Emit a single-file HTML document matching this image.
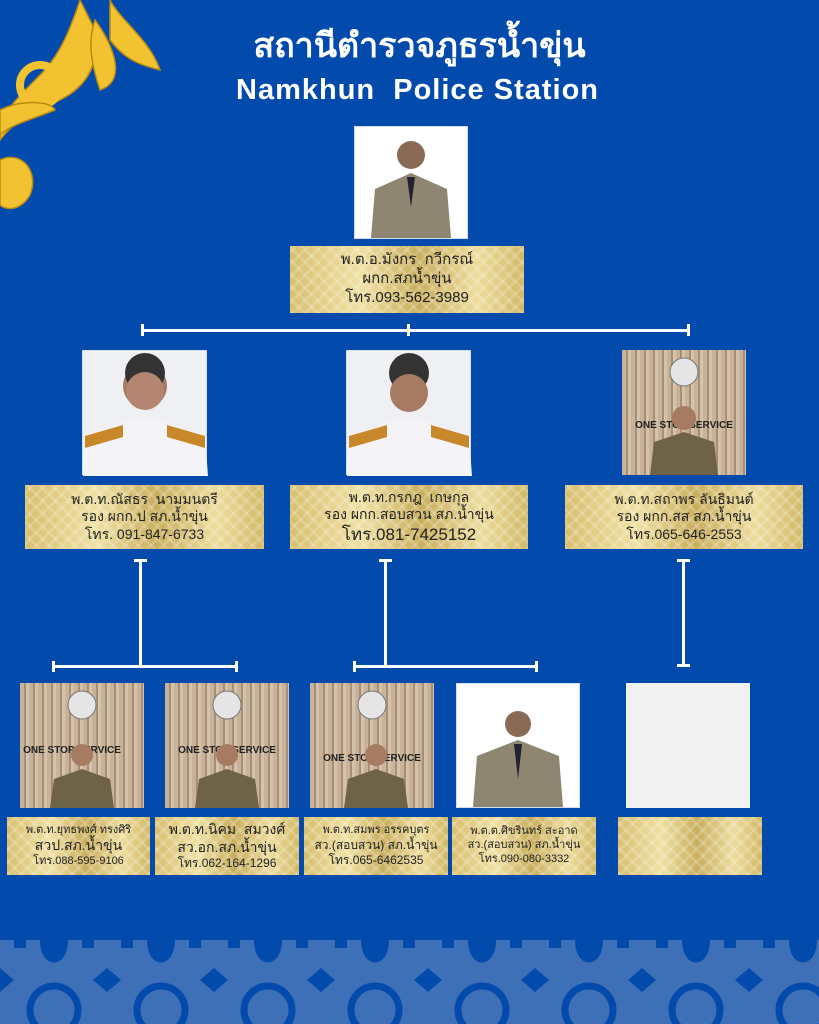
<!DOCTYPE html>
<html><head><meta charset="utf-8">
<style>
*{margin:0;padding:0;box-sizing:border-box}
body{width:819px;height:1024px;background:#034aad;position:relative;overflow:hidden;font-family:"Liberation Sans","DejaVu Sans",sans-serif}
.a{position:absolute}
.lbl{position:absolute;background:repeating-linear-gradient(45deg,rgba(255,255,255,.18) 0 3px,transparent 3px 9px),repeating-linear-gradient(-45deg,rgba(255,255,255,.18) 0 3px,transparent 3px 9px),linear-gradient(90deg,#d8bf6e,#efe0a2 30%,#c9ae5c 55%,#ecdc9c 80%,#d3b966);color:#222;text-align:center;display:flex;flex-direction:column;justify-content:center;line-height:1.25}
.w{background:#fff;position:absolute;border:1px solid #d6dde8}
.wood{position:absolute;background:repeating-linear-gradient(90deg,#c8b39a 0 4px,#a88e74 4px 6px,#d4c2aa 6px 9px)}
.ln{position:absolute;background:#fff}
</style></head><body>
<!-- ornament -->
<svg class="a" style="left:0;top:0" width="170" height="215" viewBox="0 0 170 215">
<g fill="#f2c230" stroke="#b98a10" stroke-width="1.5">
<path d="M80 0 C70 30 60 55 40 75 C20 95 5 110 0 125 L0 140 C15 120 35 110 60 100 C90 85 100 60 95 30 Z"/>
<path d="M110 0 C120 20 150 40 160 70 C140 65 125 60 110 40 Z"/>
<path d="M95 20 C110 40 130 80 100 90 C90 60 88 40 95 20Z"/>
<circle cx="40" cy="85" r="20" fill="none" stroke-width="8" stroke="#f2c230"/>
<path d="M0 160 C20 150 40 170 30 195 C20 212 5 210 0 205 Z"/>
<path d="M0 110 C20 100 50 100 55 110 C30 120 10 125 0 135Z"/>
</g></svg>
<div class="a" style="left:0;width:819px;top:26px;line-height:1.2;text-align:center;color:#fff;font-size:34px;font-weight:bold;padding-left:20px">สถานีตำรวจภูธรน้ำขุ่น</div>
<div class="a" style="left:0;width:819px;top:76px;line-height:1;text-align:center;color:#fff;font-size:29px;font-weight:bold;padding-left:16px;letter-spacing:1px">Namkhun&nbsp; Police Station</div>

<!-- top -->
<div class="w" style="left:354px;top:126px;width:114px;height:113px"><svg width="112" height="111"><circle cx="56" cy="28" r="14" fill="#8a6a55"/><path d="M16 111 L20 62 L56 46 L92 62 L96 111Z" fill="#8e8670"/><path d="M52 50 L56 80 L60 50Z" fill="#223"/></svg></div>
<div class="lbl" style="left:290px;top:246px;width:234px;height:67px;font-size:15px"><div>พ.ต.อ.มังกร&nbsp; กวีกรณ์</div><div>ผกก.สภน้ำขุ่น</div><div>โทร.093-562-3989</div></div>

<div class="ln" style="left:142px;top:329px;width:547px;height:3px"></div>
<div class="ln" style="left:141px;top:324px;width:3px;height:12px"></div>
<div class="ln" style="left:407px;top:324px;width:3px;height:12px"></div>
<div class="ln" style="left:687px;top:324px;width:3px;height:12px"></div>

<!-- row 2 -->
<div class="w" style="left:82px;top:350px;width:125px;height:125px;background:#eef0f4"><svg width="125" height="125"><circle cx="62" cy="35" r="22" fill="#a77a62"/><circle cx="62" cy="22" r="20" fill="#333"/><circle cx="62" cy="40" r="19" fill="#b48570"/><path d="M0 125 L2 85 L40 72 L62 66 L84 72 L122 85 L125 125Z" fill="#f4f4f8"/><path d="M2 85 L40 74 L40 86 L2 97Z M122 85 L84 74 L84 86 L122 97Z" fill="#c8882a"/></svg></div>
<div class="w" style="left:346px;top:350px;width:125px;height:125px;background:#eef0f4"><svg width="125" height="125"><circle cx="62" cy="22" r="20" fill="#333"/><circle cx="62" cy="42" r="19" fill="#a77a62"/><path d="M0 125 L2 85 L40 72 L62 66 L84 72 L122 85 L125 125Z" fill="#f4f4f8"/><path d="M2 85 L40 74 L40 86 L2 97Z M122 85 L84 74 L84 86 L122 97Z" fill="#c8882a"/></svg></div>
<div class="wood" style="left:622px;top:350px;width:124px;height:125px"><svg width="124" height="125"><circle cx="62" cy="22" r="14" fill="#e5e5e5" stroke="#777"/><text x="62" y="78" font-size="10" font-weight="bold" text-anchor="middle" fill="#222" font-family="Liberation Sans">ONE STOP SERVICE</text><circle cx="62" cy="68" r="12" fill="#a77a62"/><path d="M28 125 L32 92 L62 82 L92 92 L96 125Z" fill="#6e6248"/></svg></div>
<div class="lbl" style="left:25px;top:485px;width:239px;height:64px;font-size:14px"><div>พ.ต.ท.ณัสธร&nbsp; นามมนตรี</div><div>รอง ผกก.ป สภ.น้ำขุ่น</div><div>โทร. 091-847-6733</div></div>
<div class="lbl" style="left:290px;top:485px;width:238px;height:64px;font-size:14px"><div>พ.ต.ท.กรกฎ&nbsp; เกษกุล</div><div>รอง ผกก.สอบสวน สภ.น้ำขุ่น</div><div style="font-size:17px">โทร.081-7425152</div></div>
<div class="lbl" style="left:565px;top:485px;width:238px;height:64px;font-size:14px"><div>พ.ต.ท.สถาพร ลันธิมนต์</div><div>รอง ผกก.สส สภ.น้ำขุ่น</div><div>โทร.065-646-2553</div></div>

<!-- connectors -->
<div class="ln" style="left:139px;top:560px;width:3px;height:106px"></div>
<div class="ln" style="left:134px;top:559px;width:13px;height:3px"></div>
<div class="ln" style="left:52px;top:665px;width:186px;height:3px"></div>
<div class="ln" style="left:52px;top:661px;width:3px;height:11px"></div>
<div class="ln" style="left:235px;top:661px;width:3px;height:11px"></div>
<div class="ln" style="left:384px;top:560px;width:3px;height:106px"></div>
<div class="ln" style="left:379px;top:559px;width:13px;height:3px"></div>
<div class="ln" style="left:353px;top:665px;width:185px;height:3px"></div>
<div class="ln" style="left:353px;top:661px;width:3px;height:11px"></div>
<div class="ln" style="left:535px;top:661px;width:3px;height:11px"></div>
<div class="ln" style="left:682px;top:560px;width:3px;height:106px"></div>
<div class="ln" style="left:677px;top:559px;width:13px;height:3px"></div>
<div class="ln" style="left:677px;top:664px;width:13px;height:3px"></div>

<!-- row 3 -->
<div class="wood" style="left:20px;top:683px;width:124px;height:125px"><svg width="124" height="125"><circle cx="62" cy="22" r="14" fill="#e5e5e5" stroke="#777"/><text x="52" y="70" font-size="10" font-weight="bold" text-anchor="middle" fill="#222" font-family="Liberation Sans">ONE STOP SERVICE</text><circle cx="62" cy="72" r="11" fill="#a77a62"/><path d="M30 125 L34 96 L62 86 L90 96 L94 125Z" fill="#6e6248"/></svg></div>
<div class="wood" style="left:165px;top:683px;width:124px;height:125px"><svg width="124" height="125"><circle cx="62" cy="22" r="14" fill="#e5e5e5" stroke="#777"/><text x="62" y="70" font-size="10" font-weight="bold" text-anchor="middle" fill="#222" font-family="Liberation Sans">ONE STOP SERVICE</text><circle cx="62" cy="72" r="11" fill="#a77a62"/><path d="M30 125 L34 96 L62 86 L90 96 L94 125Z" fill="#6e6248"/></svg></div>
<div class="wood" style="left:310px;top:683px;width:124px;height:125px"><svg width="124" height="125"><circle cx="62" cy="22" r="14" fill="#e5e5e5" stroke="#777"/><text x="62" y="78" font-size="10" font-weight="bold" text-anchor="middle" fill="#222" font-family="Liberation Sans">ONE STOP SERVICE</text><circle cx="66" cy="72" r="11" fill="#a77a62"/><path d="M34 125 L38 96 L66 86 L94 96 L98 125Z" fill="#6e6248"/></svg></div>
<div class="w" style="left:456px;top:683px;width:124px;height:125px"><svg width="122" height="123"><circle cx="61" cy="40" r="13" fill="#8a6a55"/><path d="M16 123 L20 72 L61 56 L102 72 L106 123Z" fill="#8e8670"/><path d="M57 60 L61 95 L65 60Z" fill="#223"/></svg></div>
<div class="a" style="left:626px;top:683px;width:124px;height:125px;background:#f2f2f2"></div>
<div class="lbl" style="left:7px;top:817px;width:143px;height:58px;font-size:11px"><div>พ.ต.ท.ยุทธพงศ์ ทรงศิริ</div><div style="font-size:14px">สวป.สภ.น้ำขุ่น</div><div>โทร.088-595-9106</div></div>
<div class="lbl" style="left:155px;top:817px;width:144px;height:58px;font-size:12px"><div style="font-size:14px">พ.ต.ท.นิคม&nbsp; สมวงศ์</div><div style="font-size:14px">สว.อก.สภ.น้ำขุ่น</div><div>โทร.062-164-1296</div></div>
<div class="lbl" style="left:304px;top:817px;width:144px;height:58px;font-size:11px"><div>พ.ต.ท.สมพร อรรคบุตร</div><div style="font-size:12px">สว.(สอบสวน) สภ.น้ำขุ่น</div><div style="font-size:12px">โทร.065-6462535</div></div>
<div class="lbl" style="left:452px;top:817px;width:144px;height:58px;font-size:11px"><div>พ.ต.ต.ศิขรินทร์ สะอาด</div><div>สว.(สอบสวน) สภ.น้ำขุ่น</div><div>โทร.090-080-3332</div></div>
<div class="lbl" style="left:618px;top:817px;width:144px;height:58px"></div>

<!-- bottom pattern -->
<svg class="a" style="left:0;top:940px" width="819" height="84">
<defs><pattern id="p" x="0" y="0" width="107" height="84" patternUnits="userSpaceOnUse">
<rect width="107" height="84" fill="#3d70b6"/>
<path d="M0 0 H14 V8 H26 V0 Z M40 0 C40 30 68 30 68 0 Z M82 0 V8 H94 V0 H107 Z" fill="#034aad"/>
<path d="M53 -2 L47 10 L59 10Z" fill="#034aad"/>
<circle cx="54" cy="70" r="24" fill="none" stroke="#034aad" stroke-width="7"/>
<path d="M0 28 L14 40 L0 52Z M107 28 L93 40 L107 52Z" fill="#034aad"/>
</pattern></defs>
<rect width="819" height="84" fill="url(#p)"/>
</svg>
</body></html>
